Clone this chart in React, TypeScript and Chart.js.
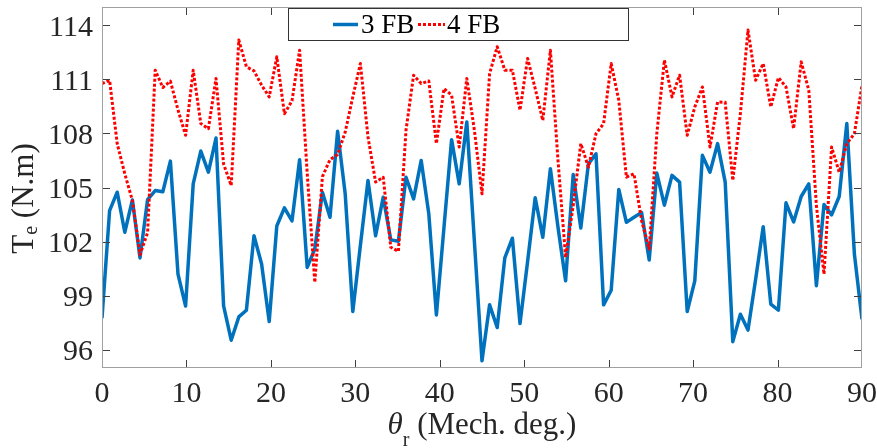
import React, { useEffect, useRef } from "react";
import { Chart, registerables } from "chart.js";

Chart.register(...registerables);

// ---------------- data ----------------
const ANGLES_DEG = [
  0, 0.9, 1.8, 2.7, 3.6, 4.5, 5.4, 6.3, 7.2, 8.1, 9, 9.9, 10.8, 11.7, 12.6, 13.5, 14.4, 15.3, 16.2, 17.1,
  18, 18.9, 19.8, 20.7, 21.6, 22.5, 23.4, 24.3, 25.2, 26.1, 27, 27.9, 28.8, 29.7, 30.6, 31.5, 32.4, 33.3,
  34.2, 35.1, 36, 36.9, 37.8, 38.7, 39.6, 40.5, 41.4, 42.3, 43.2, 44.1, 45, 45.9, 46.8, 47.7, 48.6, 49.5,
  50.4, 51.3, 52.2, 53.1, 54, 54.9, 55.8, 56.7, 57.6, 58.5, 59.4, 60.3, 61.2, 62.1, 63, 63.9, 64.8, 65.7,
  66.6, 67.5, 68.4, 69.3, 70.2, 71.1, 72, 72.9, 73.8, 74.7, 75.6, 76.5, 77.4, 78.3, 79.2, 80.1, 81, 81.9,
  82.8, 83.7, 84.6, 85.5, 86.4, 87.3, 88.2, 89.1, 90,
];

const TORQUE_3FB = [
  97.76, 103.72, 104.74, 102.52, 104.31, 101.1, 104.33, 104.83, 104.76, 106.46,
  100.2, 98.43, 105.2, 107.02, 105.85, 107.74, 98.44, 96.54, 97.83, 98.2,
  102.33, 100.76, 97.57, 102.87, 103.87, 103.15, 106.54, 100.57, 101.6, 104.74,
  103.35, 108.11, 104.65, 98.13, 101.8, 105.39, 102.33, 104.46, 102.1, 102.02,
  105.57, 104.37, 106.5, 103.54, 97.94, 102.8, 107.65, 105.2, 108.63, 102.0,
  95.4, 98.5, 97.24, 101.1, 102.19, 97.46, 100.9, 104.43, 102.24, 106.04,
  102.8, 99.83, 105.72, 102.76, 106.31, 106.87, 98.5, 99.31, 104.89, 103.07,
  103.35, 103.61, 100.98, 105.8, 104.02, 105.67, 105.3, 98.13, 99.83, 106.78,
  105.85, 107.43, 105.3, 96.46, 97.98, 97.1, 99.9, 102.83, 98.54, 98.2,
  104.15, 103.09, 104.5, 105.2, 99.56, 104.06, 103.48, 104.5, 108.54, 101.31,
  97.7,
];

const TORQUE_4FB = [
  110.76, 110.94, 107.43, 105.76, 104.28, 101.28, 102.5, 111.5, 110.54, 110.89,
  109.3, 107.89, 111.5, 108.54, 108.26, 111.04, 106.3, 105.11, 113.17, 111.69,
  111.46, 110.67, 110.02, 112.24, 109.09, 109.8, 112.61, 105.8, 99.74, 105.6,
  106.54, 106.83, 108.07, 110.02, 111.87, 107.8, 105.3, 105.57, 101.69, 101.46,
  108.17, 111.22, 110.76, 110.9, 107.43, 110.48, 110.11, 107.24, 111.04, 108.17,
  104.65, 111.31, 112.8, 111.5, 111.5, 109.28, 112.15, 110.48, 108.72, 112.61,
  106.5, 101.13, 104.0, 107.43, 106.13, 107.98, 108.54, 111.87, 109.83, 105.57,
  105.76, 103.17, 101.59, 107.98, 112.06, 110.02, 111.22, 107.89, 109.46, 110.57,
  107.24, 109.74, 109.72, 105.39, 109.1, 113.72, 110.94, 111.87, 109.46, 111.09,
  110.57, 108.26, 111.96, 110.39, 104.0, 100.2, 107.24, 105.85, 107.43, 107.98,
  110.67,
];

const SERIES_LABELS = ["3 FB", "4 FB"];
const X_TICKS = [0, 10, 20, 30, 40, 50, 60, 70, 80, 90];
const Y_TICKS = [96, 99, 102, 105, 108, 111, 114];
const X_RANGE = [0, 90];
const Y_RANGE = [95, 115];

// ---------------- styles ----------------
const SERIF = '"Liberation Serif", "Times New Roman", Times, serif';
const BLUE = "#0072BD";
const RED = "#FF0000";
const AXIS_COLOR = "#a0a0a0";
const TICK_COLOR = "#404040";
const TEXT_COLOR = "#262626";

type Part = { text: string; font: string; dy: number };

function drawParts(ctx: CanvasRenderingContext2D, parts: Part[], startX: number, baseY: number) {
  let x = startX;
  for (const p of parts) {
    ctx.font = p.font;
    ctx.fillText(p.text, x, baseY + p.dy);
    x += ctx.measureText(p.text).width;
  }
}

function partsWidth(ctx: CanvasRenderingContext2D, parts: Part[]) {
  let w = 0;
  for (const p of parts) {
    ctx.font = p.font;
    w += ctx.measureText(p.text).width;
  }
  return w;
}

const matlabAxesPlugin = {
  id: "matlabAxes",
  afterDraw(chart: any) {
    const ctx: CanvasRenderingContext2D = chart.ctx;
    const { left, right, top, bottom } = chart.chartArea;
    const xs = chart.scales.x;
    const ys = chart.scales.y;
    ctx.save();

    // inward tick marks on all four sides
    ctx.strokeStyle = TICK_COLOR;
    ctx.lineWidth = 1;
    ctx.setLineDash([]);
    ctx.beginPath();
    const tl = 8;
    for (const v of X_TICKS) {
      let px = Math.round(xs.getPixelForValue(v)) + 0.5;
      px = Math.min(Math.max(px, left + 0.5), right - 0.5);
      ctx.moveTo(px, bottom);
      ctx.lineTo(px, bottom - tl);
      ctx.moveTo(px, top);
      ctx.lineTo(px, top + tl);
    }
    for (const v of Y_TICKS) {
      const py = Math.round(ys.getPixelForValue(v)) + 0.5;
      ctx.moveTo(left, py);
      ctx.lineTo(left + tl, py);
      ctx.moveTo(right, py);
      ctx.lineTo(right - tl, py);
    }
    ctx.stroke();

    // axes box
    ctx.strokeStyle = AXIS_COLOR;
    ctx.strokeRect(left + 0.5, top + 0.5, right - left - 1, bottom - top - 1);

    // tick labels
    ctx.fillStyle = TEXT_COLOR;
    ctx.font = `30px ${SERIF}`;
    ctx.textBaseline = "alphabetic";
    ctx.textAlign = "right";
    for (const v of Y_TICKS) {
      ctx.fillText(String(v), left - 9, ys.getPixelForValue(v) + 10.5);
    }
    ctx.textAlign = "center";
    for (const v of X_TICKS) {
      ctx.fillText(String(v), xs.getPixelForValue(v), bottom + 34);
    }

    // x axis title: θ_r (Mech. deg.)
    ctx.textAlign = "left";
    const xParts: Part[] = [
      { text: "θ", font: `italic 31px ${SERIF}`, dy: 0 },
      { text: "r", font: `20px ${SERIF}`, dy: 12 },
      { text: " (Mech. deg.)", font: `31px ${SERIF}`, dy: 0 },
    ];
    const xw = partsWidth(ctx, xParts);
    drawParts(ctx, xParts, (left + right) / 2 - xw / 2, bottom + 66);

    // y axis title: T_e (N.m)
    const yParts: Part[] = [
      { text: "T", font: `31px ${SERIF}`, dy: 0 },
      { text: "e", font: `20px ${SERIF}`, dy: 4 },
      { text: " (N.m)", font: `31px ${SERIF}`, dy: 0 },
    ];
    const yw = partsWidth(ctx, yParts);
    ctx.save();
    ctx.translate(33, (top + bottom) / 2 + 11);
    ctx.rotate(-Math.PI / 2);
    drawParts(ctx, yParts, -yw / 2, 0);
    ctx.restore();

    // legend box
    const lx = left + 186;
    const ly = top + 1;
    const lw = 341;
    const lh = 33;
    ctx.fillStyle = "#ffffff";
    ctx.fillRect(lx, ly, lw, lh);
    ctx.strokeStyle = "#333333";
    ctx.lineWidth = 1;
    ctx.strokeRect(lx + 0.5, ly + 0.5, lw - 1, lh - 1);

    const midY = ly + 16.5;
    ctx.lineCap = "butt";
    // 3 FB sample
    ctx.strokeStyle = BLUE;
    ctx.lineWidth = 3.5;
    ctx.beginPath();
    ctx.moveTo(lx + 45, midY);
    ctx.lineTo(lx + 70, midY);
    ctx.stroke();
    ctx.fillStyle = "#000000";
    ctx.font = `27px ${SERIF}`;
    ctx.textAlign = "left";
    ctx.fillText(SERIES_LABELS[0], lx + 73, ly + 25);
    // 4 FB sample
    ctx.strokeStyle = RED;
    ctx.lineWidth = 3;
    ctx.setLineDash([3, 2]);
    ctx.beginPath();
    ctx.moveTo(lx + 130, midY);
    ctx.lineTo(lx + 157, midY);
    ctx.stroke();
    ctx.setLineDash([]);
    ctx.fillText(SERIES_LABELS[1], lx + 159, ly + 25);

    ctx.restore();
  },
};

export default function App() {
  const canvasRef = useRef<HTMLCanvasElement | null>(null);

  useEffect(() => {
    const canvas = canvasRef.current;
    if (!canvas) return;
    const chart = new Chart(canvas, {
      type: "line",
      data: {
        datasets: [
          {
            label: SERIES_LABELS[0],
            data: ANGLES_DEG.map((a, i) => ({ x: a, y: TORQUE_3FB[i] })),
            borderColor: BLUE,
            backgroundColor: BLUE,
            borderWidth: 3.5,
            borderJoinStyle: "round",
            pointRadius: 0,
            tension: 0,
            fill: false,
            order: 2,
          },
          {
            label: SERIES_LABELS[1],
            data: ANGLES_DEG.map((a, i) => ({ x: a, y: TORQUE_4FB[i] })),
            borderColor: RED,
            backgroundColor: RED,
            borderWidth: 3,
            borderDash: [3, 2],
            borderJoinStyle: "round",
            pointRadius: 0,
            tension: 0,
            fill: false,
            order: 1,
          },
        ],
      },
      options: {
        responsive: true,
        maintainAspectRatio: false,
        animation: false,
        events: [],
        layout: { padding: { top: 7, right: 15, left: 0, bottom: 0 } },
        plugins: {
          legend: { display: false },
          tooltip: { enabled: false },
        },
        scales: {
          x: {
            type: "linear",
            min: X_RANGE[0],
            max: X_RANGE[1],
            grid: { display: false },
            border: { display: false },
            ticks: { display: false },
            afterBuildTicks: (scale: any) => {
              scale.ticks = X_TICKS.map((v) => ({ value: v }));
            },
            afterFit: (scale: any) => {
              scale.height = 80;
            },
          },
          y: {
            type: "linear",
            min: Y_RANGE[0],
            max: Y_RANGE[1],
            grid: { display: false },
            border: { display: false },
            ticks: { display: false },
            afterBuildTicks: (scale: any) => {
              scale.ticks = Y_TICKS.map((v) => ({ value: v }));
            },
            afterFit: (scale: any) => {
              scale.width = 102;
            },
          },
        },
      },
      plugins: [matlabAxesPlugin],
    });
    return () => chart.destroy();
  }, []);

  return (
    <div style={{ position: "fixed", left: 0, top: 0, width: 877, height: 448, background: "#ffffff" }}>
      <canvas ref={canvasRef} style={{ display: "block" }} />
    </div>
  );
}
